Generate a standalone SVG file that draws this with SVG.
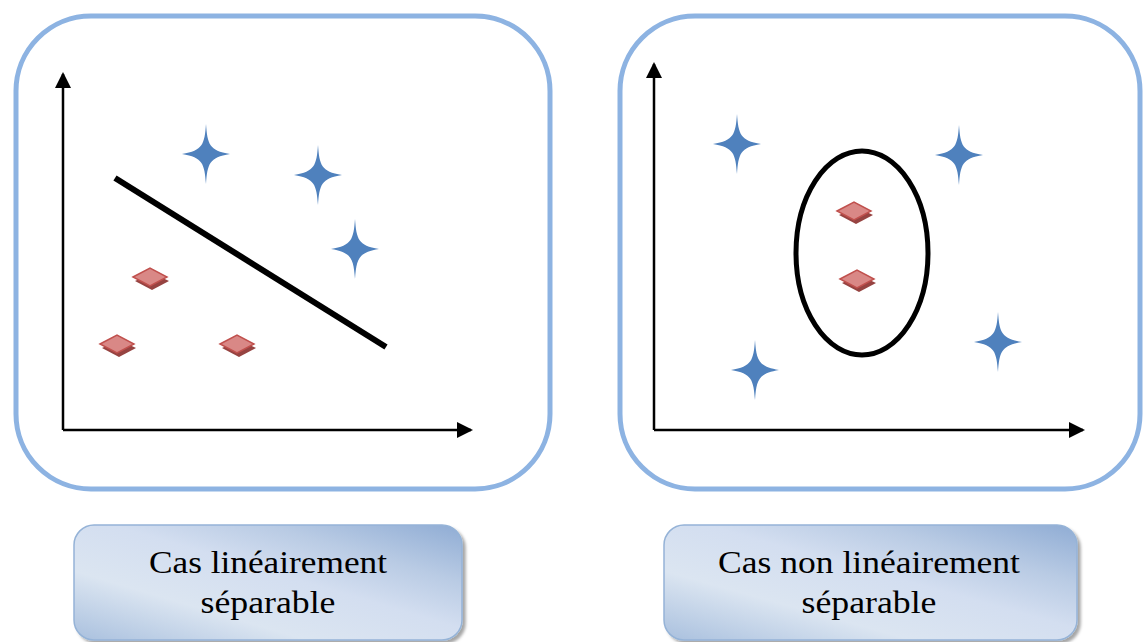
<svg xmlns="http://www.w3.org/2000/svg" width="1146" height="642" viewBox="0 0 1146 642">
<defs>
<style>
.panel{fill:#fff;stroke:#8db3e2;stroke-width:5}
.axis{stroke:#000;stroke-width:2.5;fill:none}
.star{fill:#4f81bd}
.dtop{fill:#d98886;stroke:#c0504d;stroke-width:1.5}
.dbase{fill:#8b2f2c;opacity:0.9}
.lbl{stroke:#95b3d7;stroke-width:1.5;fill:url(#g)}
.txt{font-family:"Liberation Serif",serif;font-size:31px;fill:#000;text-anchor:middle}
</style>
<linearGradient id="g" x1="0" y1="1" x2="1" y2="0">
<stop offset="0" stop-color="#a9c0de"/>
<stop offset="0.3" stop-color="#dbe5f1"/>
<stop offset="0.55" stop-color="#d3def0"/>
<stop offset="0.75" stop-color="#b9cbe4"/>
<stop offset="1" stop-color="#8facd4"/>
</linearGradient>
<filter id="sh" x="-5%" y="-10%" width="112%" height="130%">
<feDropShadow dx="3" dy="3" stdDeviation="1.5" flood-color="#000" flood-opacity="0.35"/>
</filter>
<marker id="ah" markerWidth="16" markerHeight="16" refX="14" refY="8" orient="auto" markerUnits="userSpaceOnUse">
<path d="M0,0 L16,8 L0,16 Z" fill="#000"/>
</marker>
<path id="star" class="star" d="M0,-30 C1.5,-10 3,-3.5 24,0 C3,3.5 1.5,10 0,30 C-1.5,10 -3,3.5 -24,0 C-3,-3.5 -1.5,-10 0,-30 Z"/>
<g id="dia">
<path class="dbase" d="M-15,4 L2,-4 L19,4 L2,13 Z"/>
<path class="dtop" d="M-17,0 L0,-9 L17,0 L0,9 Z"/>
</g>
</defs>
<rect width="1146" height="642" fill="#fff"/>

<g id="panel-left">
<rect class="panel" x="16" y="16" width="534" height="473" rx="75"/>
</g>
<g id="panel-right">
<rect class="panel" x="620" y="16" width="520" height="473" rx="75"/>
</g>

<g id="connectors">
<path class="axis" d="M63,430 L63,74" marker-end="url(#ah)"/>
<path class="axis" d="M63,430 L471,430" marker-end="url(#ah)"/>
<path class="axis" d="M654,430 L654,64" marker-end="url(#ah)"/>
<path class="axis" d="M654,430 L1083,430" marker-end="url(#ah)"/>
<line x1="115" y1="178" x2="386" y2="347" stroke="#000" stroke-width="6"/>
<ellipse cx="862" cy="253" rx="66" ry="102" fill="none" stroke="#000" stroke-width="5"/>
</g>

<g id="points-left">
<use href="#star" x="206" y="154"/>
<use href="#star" x="318" y="175"/>
<use href="#star" x="355" y="249"/>
<use href="#dia" x="150" y="277"/>
<use href="#dia" x="117" y="344"/>
<use href="#dia" x="237" y="344"/>
</g>
<g id="points-right">
<use href="#star" x="737" y="144"/>
<use href="#star" x="959" y="155"/>
<use href="#star" x="755" y="370"/>
<use href="#star" x="998" y="342"/>
<use href="#dia" x="854" y="211"/>
<use href="#dia" x="857" y="279"/>
</g>

<g id="label-left">
<rect class="lbl" x="74" y="525" width="388" height="115" rx="20" filter="url(#sh)"/>
<text class="txt" x="268" y="573" textLength="238" lengthAdjust="spacingAndGlyphs">Cas linéairement</text>
<text class="txt" x="268" y="613" textLength="135" lengthAdjust="spacingAndGlyphs">séparable</text>
</g>
<g id="label-right">
<rect class="lbl" x="664" y="525" width="413" height="115" rx="20" filter="url(#sh)"/>
<text class="txt" x="869" y="573" textLength="302" lengthAdjust="spacingAndGlyphs">Cas non linéairement</text>
<text class="txt" x="869" y="613" textLength="135" lengthAdjust="spacingAndGlyphs">séparable</text>
</g>
</svg>
